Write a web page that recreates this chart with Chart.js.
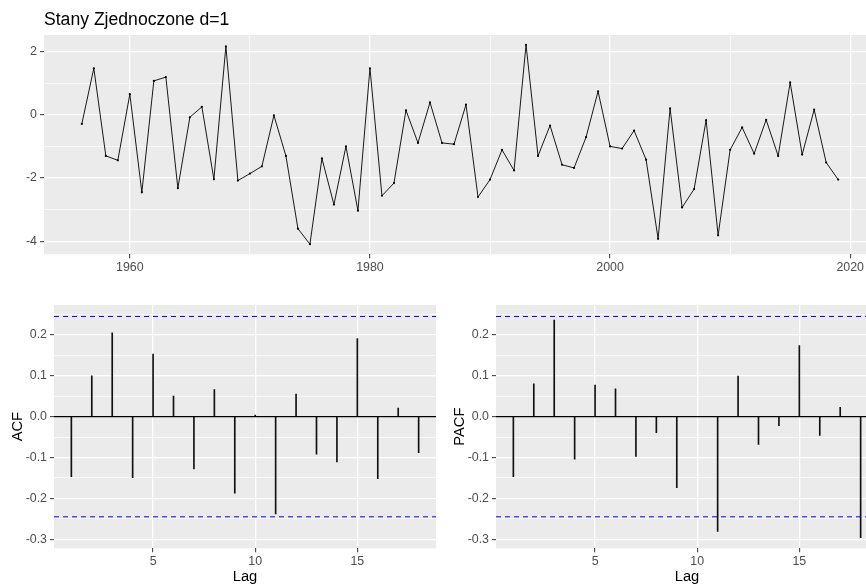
<!DOCTYPE html>
<html><head><meta charset="utf-8">
<script src="https://cdn.jsdelivr.net/npm/chart.js@4"></script>
<style>
html,body{margin:0;padding:0;background:#fff;overflow:hidden;width:866px;height:586px;}
#wrap{position:relative;width:866px;height:586px;overflow:hidden;background:#fff;}
canvas{position:absolute;}
</style></head><body>
<div id="wrap">
<canvas id="ts" width="880" height="290" style="left:0;top:0"></canvas>
<canvas id="acf" width="440" height="296" style="left:0;top:290px"></canvas>
<canvas id="pacf" width="440" height="296" style="left:442px;top:290px"></canvas>
</div>
<script>
// ---- data ----
const chartTitle = 'Stany Zjednoczone d=1';
const years = [1956,1957,1958,1959,1960,1961,1962,1963,1964,1965,1966,1967,1968,1969,1970,1971,1972,1973,1974,1975,1976,1977,1978,1979,1980,1981,1982,1983,1984,1985,1986,1987,1988,1989,1990,1991,1992,1993,1994,1995,1996,1997,1998,1999,2000,2001,2002,2003,2004,2005,2006,2007,2008,2009,2010,2011,2012,2013,2014,2015,2016,2017,2018,2019];
const values = [-0.29,1.47,-1.30,-1.44,0.65,-2.45,1.07,1.19,-2.32,-0.08,0.25,-2.04,2.16,-2.08,-1.86,-1.63,-0.02,-1.30,-3.60,-4.09,-1.38,-2.84,-1.00,-3.03,1.47,-2.56,-2.16,0.14,-0.89,0.39,-0.89,-0.93,0.32,-2.60,-2.05,-1.11,-1.76,2.21,-1.30,-0.34,-1.58,-1.68,-0.71,0.74,-1.00,-1.07,-0.50,-1.42,-3.92,0.20,-2.93,-2.35,-0.17,-3.81,-1.11,-0.40,-1.23,-0.16,-1.30,1.02,-1.26,0.16,-1.51,-2.05];
const lags = [1,2,3,4,5,6,7,8,9,10,11,12,13,14,15,16,17,18];
const acfValues = [-0.147,0.100,0.205,-0.149,0.153,0.050,-0.128,0.066,-0.187,0.004,-0.238,0.055,-0.092,-0.111,0.191,-0.152,0.021,-0.088];
const pacfValues = [-0.147,0.080,0.236,-0.104,0.077,0.068,-0.097,-0.039,-0.174,0.000,-0.281,0.099,-0.068,-0.022,0.174,-0.046,0.023,-0.296];
const ciBound = 0.245;

const tsXTicks = [1960,1970,1980,1990,2000,2010,2020];
const tsXLabels = ['1960','','1980','','2000','','2020'];
const tsYTicks = [-4,-3,-2,-1,0,1,2];
const tsYLabels = ['-4','','-2','','0','','2'];
const lagTicks = [5,10,15];
const lagLabels = ['5','10','15'];
const corrTicks = [-0.3,-0.25,-0.2,-0.15,-0.1,-0.05,0,0.05,0.1,0.15,0.2,0.25];
const corrLabels = ['-0.3','','-0.2','','-0.1','','0.0','','0.1','','0.2',''];

// ---- styling ----
Chart.defaults.font.family = '"Liberation Sans", Arial, Helvetica, sans-serif';
const panelBg = {id:'panelBg', beforeDraw(chart){
  const {ctx, chartArea:a} = chart;
  ctx.save(); ctx.fillStyle = '#EBEBEB';
  ctx.fillRect(a.left, a.top, a.right - a.left, a.bottom - a.top);
  ctx.restore();
}};

function axis(pos, min, max, ticks, labels, fitSize, title, titlePad) {
  const o = {
    type: 'linear', position: pos, min: min, max: max, offset: false,
    afterBuildTicks: s => { s.ticks = ticks.map(v => ({value: v})); },
    afterFit: s => { if (pos === 'left') s.width = fitSize; else s.height = fitSize; },
    ticks: {autoSkip: false, maxRotation: 0, minRotation: 0, padding: pos === 'left' ? 3 : 2,
      color: '#4D4D4D', font: {size: 12.4}, callback: (v, i) => labels[i]},
    grid: {offset: false, color: '#FFFFFF', drawTicks: true, tickLength: 4, tickWidth: 1,
      lineWidth: c => labels[c.index] ? 1.3 : 0.65,
      tickColor: c => labels[c.index] ? '#333333' : 'rgba(0,0,0,0)'},
    border: {display: false}
  };
  if (title) o.title = {display: true, text: title, color: '#000000', font: {size: 14.7}, padding: titlePad};
  return o;
}

const common = {responsive: false, animation: false, events: [],
  plugins: {legend: {display: false}, tooltip: {enabled: false}}};

// ---- time series ----
new Chart(document.getElementById('ts'), {
  type: 'line',
  data: {datasets: [{
    data: years.map((y, i) => ({x: y, y: values[i]})),
    borderColor: '#000000', borderWidth: 0.9, tension: 0,
    pointRadius: 1.1, pointBackgroundColor: '#000000', pointBorderWidth: 0
  }]},
  options: Object.assign({}, common, {
    layout: {padding: {top: 0, right: 3, bottom: 0, left: 0}},
    plugins: {legend: {display: false}, tooltip: {enabled: false},
      title: {display: true, text: chartTitle, align: 'start', fullSize: false, color: '#000000',
        font: {size: 17.6, weight: 'normal'}, padding: {top: 9.5, bottom: 4.38}}},
    scales: {
      x: axis('bottom', 1952.85, 2022.15, tsXTicks, tsXLabels, 35.7),
      y: axis('left', -4.41, 2.52, tsYTicks, tsYLabels, 44)
    }
  }),
  plugins: [panelBg]
});

// ---- correlograms ----
function corrChart(id, vals, name) {
  const xMin = 0.15, xMax = 18.85;
  const hline = v => [{x: xMin, y: v}, {x: xMax, y: v}];
  new Chart(document.getElementById(id), {
    type: 'bar',
    data: {datasets: [
      {type: 'line', data: hline(0), borderColor: '#000000', borderWidth: 1.1, pointRadius: 0},
      {type: 'bar', data: lags.map((l, i) => ({x: l, y: vals[i]})), backgroundColor: '#111111',
        borderWidth: 0, barThickness: 1.0},
      {type: 'line', data: hline(ciBound), borderColor: '#0000FF', borderWidth: 1, borderDash: [5, 4], pointRadius: 0},
      {type: 'line', data: hline(-ciBound), borderColor: '#0000FF', borderWidth: 1, borderDash: [5, 4], pointRadius: 0}
    ]},
    options: Object.assign({}, common, {
      layout: {padding: {top: 15, right: 4, bottom: 0, left: 0}},
      scales: {
        x: axis('bottom', xMin, xMax, lagTicks, lagLabels, 37.7, 'Lag', {top: 0, bottom: 0.5}),
        y: axis('left', -0.322, 0.273, corrTicks, corrLabels, 54, name, {top: 8.7, bottom: 0})
      }
    }),
    plugins: [panelBg]
  });
}
corrChart('acf', acfValues, 'ACF');
corrChart('pacf', pacfValues, 'PACF');
</script>
</body></html>
